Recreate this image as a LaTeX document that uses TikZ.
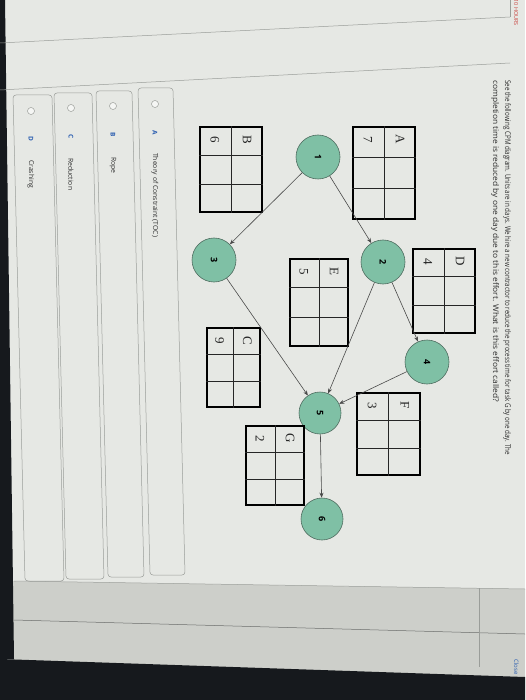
\documentclass[tikz,border=0pt]{standalone}
\usepackage{graphicx}
\usepackage{fontspec}
\setmainfont{Liberation Serif}
\newfontfamily\uifont{Open Sans}
\usetikzlibrary{arrows.meta,calc}
\definecolor{bgc}{HTML}{E6E8E4}
\definecolor{lowc}{HTML}{CDCFCA}
\definecolor{darkc}{HTML}{16191D}
\definecolor{evfill}{HTML}{7FC0A5}
\definecolor{evline}{HTML}{4F6D60}
\definecolor{edgec}{HTML}{4A4A4A}
\definecolor{optline}{HTML}{9A9D99}
\definecolor{optblue}{HTML}{2A5DB0}
\definecolor{duered}{HTML}{C9433F}
\definecolor{txtc}{HTML}{2E2E2E}
\tikzset{
  ev/.style={circle, draw=evline, fill=evfill, line width=0.6pt, minimum size=44pt, inner sep=0pt,
    font=\uifont\bfseries\fontsize{9}{9}\selectfont, rotate=-90},
  evs/.style={ev, minimum size=42pt},
  edge/.style={draw=edgec, line width=0.6pt, -{Stealth[length=5pt,width=4pt]}},
  tblbox/.style={draw=black, line width=1.2pt, inner sep=0pt},
  tblin/.style={draw=black!85, line width=0.7pt},
  tbllab/.style={rotate=-90, inner sep=0pt, font=\fontsize{13}{13}\selectfont, text=black!85},
  qtext/.style={rotate=-90, inner sep=0pt, font=\uifont\fontsize{7.8}{8}\selectfont, text=txtc},
  radio/.style={circle, draw=optline, fill=white!60!bgc, line width=0.5pt, minimum size=7pt, inner sep=0pt},
  optlet/.style={rotate=-90, inner sep=0pt, font=\uifont\bfseries\fontsize{6.5}{7}\selectfont, text=optblue},
  opttxt/.style={rotate=-90, inner sep=0pt, anchor=west, font=\uifont\fontsize{6.8}{7}\selectfont, text=txtc},
  optbox/.style={draw=optline, line width=0.5pt, rounded corners=3pt},
}
\newcommand{\cpmtab}[7]{%
  \node[tblbox, minimum width=#4pt, minimum height=#5pt] (#1) at (#2,#3) {};
  \draw[tblin] (#1.north) -- (#1.south);
  \draw[tblin] ($(#1.north west)!1/3!(#1.south west)$) -- ($(#1.north east)!1/3!(#1.south east)$);
  \draw[tblin] ($(#1.north west)!2/3!(#1.south west)$) -- ($(#1.north east)!2/3!(#1.south east)$);
  \node[tbllab] (#1-let) at ($(#1.north east)+(-#4/4,13)$) {#6};
  \node[tbllab] (#1-num) at ($(#1.north west)+(#4/4,13)$) {#7};
}
\begin{document}
\begin{tikzpicture}[x=1pt,y=-1pt]
\useasboundingbox (0,0) rectangle (525,700);
% screen background
\fill[bgc] (0,0) rectangle (525,700);
\fill[lowc] (0,581) -- (525,589) -- (525,700) -- (0,700) -- cycle;
\fill[darkc] (0,659) -- (525,677) -- (525,700) -- (0,700) -- cycle;
\fill[darkc] (0,0) -- (5,0) -- (14,659) -- (0,659) -- cycle;
% page rules
\draw[optline, line width=0.5pt] (0,43) -- (510,17);
\draw[optline, line width=0.5pt] (0,90) -- (510,63);
\draw[optline, line width=0.5pt] (510,0) -- (510,17);
\draw[optline, line width=0.5pt] (14,581) -- (525,589);
\draw[optline!70!black, line width=0.5pt] (14,620) -- (525,634);
\draw[optline, line width=0.5pt] (479,588) -- (479,667);
% header
\node[rotate=-90, anchor=base east, inner sep=0pt, font=\uifont\fontsize{5.5}{6}\selectfont] (hdr) at (514,26)
  {\textcolor{gray}{HOMEWORK \textbullet{}} \textcolor{duered}{DUE IN 10 HOURS}};
\node[rotate=-90, anchor=base east, inner sep=0pt, font=\uifont\fontsize{6}{6}\selectfont, text=optblue] (close) at (514,675) {Close};
% question
\node[qtext, anchor=base west] (q1) at (505,80) {\resizebox{375pt}{\height}{See the following CPM diagram. Units are in days. We hire a new contractor to reduce the process time for task G by one day. The}};
\node[qtext, anchor=base west] (q2) at (493,80) {\resizebox{322pt}{\height}{completion time is reduced by one day due to this effort. What is this effort called?}};
% events
\node[ev] (c1) at (318,157) {1};
\node[ev] (c2) at (383,262) {2};
\node[ev] (c3) at (214,260) {3};
\node[ev] (c4) at (427,362) {4};
\node[evs] (c5) at (320,413) {5};
\node[evs] (c6) at (322,519) {6};
% activity tables
\cpmtab{A}{384}{173}{62}{92}{A}{7}
\cpmtab{B}{231}{169.5}{62}{85}{B}{6}
\cpmtab{D}{444}{291}{62}{84}{D}{4}
\cpmtab{E}{319}{302.5}{58}{87}{E}{5}
\cpmtab{C}{233.5}{367.5}{53}{79}{C}{9}
\cpmtab{F}{388.5}{434}{63}{82}{F}{3}
\cpmtab{G}{275}{465.5}{58}{79}{G}{2}
% connectors
\draw[edge] (c1) -- (c2);
\draw[edge] (c1) -- (c3);
\draw[edge] (c2) -- (c4);
\draw[edge] (c2) -- (c5);
\draw[edge] (c3) -- (c5);
\draw[edge] (c4) -- (c5);
\draw[edge] (c5) -- (c6);
% answer options
\draw[optbox] (138,88) -- (173,88) -- (185,575) -- (150,575) -- cycle;
\draw[optbox] (96,91) -- (132,91) -- (144,577) -- (108,577) -- cycle;
\draw[optbox] (54,93) -- (92,93) -- (104,579) -- (66,579) -- cycle;
\draw[optbox] (13,95) -- (52,95) -- (64,581) -- (25,581) -- cycle;
\node[radio] (ra) at (155,104) {};
\node[radio] (rb) at (113,106) {};
\node[radio] (rc) at (71,108) {};
\node[radio] (rd) at (31,111) {};
\node[optlet] (la) at (155,133) {A};
\node[optlet] (lb) at (113,135) {B};
\node[optlet] (lc) at (71,137) {C};
\node[optlet] (ld) at (31,139) {D};
\node[opttxt] (ta) at (155,153) {Theory of Constraint (TOC)};
\node[opttxt] (tb) at (113,157) {Rope};
\node[opttxt] (tc) at (71,158) {Reduction};
\node[opttxt] (td) at (31,160) {Crashing};
\end{tikzpicture}
\end{document}
